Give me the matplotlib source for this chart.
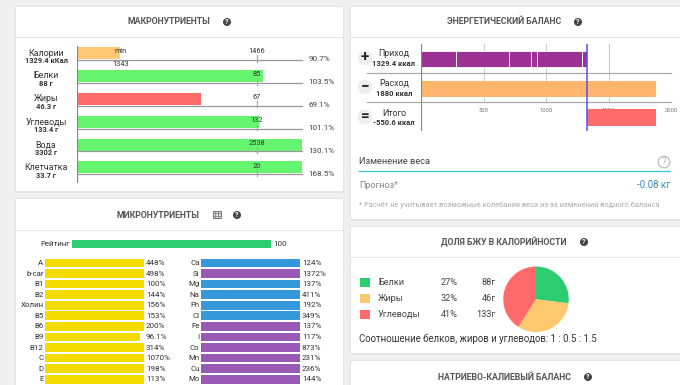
import matplotlib
matplotlib.use("Agg")
import matplotlib.pyplot as plt
from matplotlib.patches import Rectangle, Circle

plt.rcParams['font.family'] = ['Roboto', 'DejaVu Sans']

W, H = 680, 385

# ---------- data ----------
macro_names = ['Калории', 'Белки', 'Жиры', 'Углеводы', 'Вода', 'Клетчатка']
macro_amounts = ['1329.4 кКал', '88 г', '46.3 г', '133.4 г', '3302 г', '33.7 г']
macro_bars = [24.3, 103.5, 69.1, 101.1, 130.1, 168.5]
macro_pct = ['90.7%', '103.5%', '69.1%', '101.1%', '130.1%', '168.5%']
macro_targets = ['1466', '85', '67', '132', '2538', '20']
macro_colors = ['#ffc875', '#66f56e', '#ff6b6b', '#66f56e', '#66f56e', '#66f56e']

rating_value = 100
vit_names = ['A', 'b-car', 'B1', 'B2', 'Холин', 'B5', 'B6', 'B9', 'B12', 'C', 'D', 'E']
vit_values = [448, 498, 100, 144, 156, 153, 200, 96.1, 314, 1070, 198, 113]
vit_labels = ['448%', '498%', '100%', '144%', '156%', '153%', '200%', '96.1%', '314%', '1070%', '198%', '113%']
min_names = ['Ca', 'Si', 'Mg', 'Na', 'Ph', 'Cl', 'Fe', 'I', 'Co', 'Mn', 'Cu', 'Mo']
min_values = [124, 1372, 137, 411, 192, 349, 137, 117, 873, 231, 236, 144]
min_labels = ['124%', '1372%', '137%', '411%', '192%', '349%', '137%', '117%', '873%', '231%', '236%', '144%']
min_is_blue = [1, 0, 1, 1, 1, 1, 0, 0, 0, 0, 0, 0]

intake_parts = [280, 424, 176, 48, 360, 41.4]
intake_total = 1329.4
spent_total = 1880
energy_names = ['Приход', 'Расход', 'Итого']
energy_amounts = ['1329.4 ккал', '1880 ккал', '-550.6 ккал']
energy_signs = ['+', '−', '=']
energy_ticks = [500, 1000, 1500, 2000]

pie_names = ['Белки', 'Жиры', 'Углеводы']
pie_pct = [27, 32, 41]
pie_grams = ['88г', '46г', '133г']
pie_colors = ['#2ecc71', '#fdc96f', '#ff6b6b']

# ---------- layout helpers ----------
fig = plt.figure(figsize=(W / 100, H / 100), dpi=100, facecolor='#efefef')
bg = fig.add_axes([0, 0, 1, 1], zorder=0)
bg.set_xlim(0, W)
bg.set_ylim(H, 0)
bg.axis('off')


def px_ax(x0, y0, x1, y1, z=2):
    a = fig.add_axes([x0 / W, 1 - y1 / H, (x1 - x0) / W, (y1 - y0) / H], zorder=z)
    a.patch.set_alpha(0)
    for s in a.spines.values():
        s.set_visible(False)
    a.set_xticks([])
    a.set_yticks([])
    return a


def card(x0, y0, x1, y1, sep=None):
    bg.add_patch(Rectangle((x0 - 1, y0 - 1), x1 - x0 + 2, y1 - y0 + 3, fc='#e4e4e4', ec='none'))
    bg.add_patch(Rectangle((x0, y0), x1 - x0, y1 - y0, fc='white', ec='none'))
    if sep:
        bg.plot([x0, x1], [sep, sep], color='#e6e6e6', lw=0.8)


def help_icon(x, y):
    bg.add_patch(Circle((x, y), 4, fc='#444444', ec='none'))
    bg.text(x, y, '?', color='white', fontsize=5, fontweight='bold', ha='center', va='center')


def title(x, y, s):
    bg.text(x, y, s, fontsize=6.3, fontweight='bold', color='#555555', ha='center', va='center')


card(16, 7, 343, 191, 37)
card(16, 199, 343, 390, 230)
card(351, 7, 680, 219, 37)
card(351, 227, 680, 353, 257)
card(351, 361, 680, 390)

title(169, 22, 'МАКРОНУТРИЕНТЫ')
help_icon(227, 22)
title(158, 215, 'МИКРОНУТРИЕНТЫ')
help_icon(237, 215)
bg.add_patch(Rectangle((212.5, 211), 8.5, 7, fc='#dddddd', ec='#777777', lw=0.7))
for gx in (215.3, 218.1):
    bg.plot([gx, gx], [211, 218], color='#777777', lw=0.5)
for gy in (213.3, 215.6):
    bg.plot([212.5, 221], [gy, gy], color='#777777', lw=0.5)
title(504, 22, 'ЭНЕРГЕТИЧЕСКИЙ БАЛАНС')
help_icon(578, 22)
title(504, 242, 'ДОЛЯ БЖУ В КАЛОРИЙНОСТИ')
help_icon(584, 242)
title(504, 377, 'НАТРИЕВО-КАЛИЕВЫЙ БАЛАНС')
help_icon(588, 377)

# ---------- macronutrients ----------
mx = px_ax(76.5, 46, 302, 183)
mx.set_xlim(0, 125)
mx.set_ylim(5.68, -0.306)
mx.barh(range(6), macro_bars, height=0.52, color=macro_colors)
for i in range(6):
    mx.plot([0, 125], [i + 0.3, i + 0.3], color='#999999', lw=0.9, clip_on=False)
    mx.plot([100, 100], [i + 0.1, i + 0.38], color='#aaaaaa', lw=0.9)
    mx.text(100, i - 0.05, macro_targets[i], fontsize=5.3, color='#333333', ha='center', va='center')
    mx.text(128.5, i + 0.27, macro_pct[i], fontsize=5.9, color='#444444', ha='left', va='center', clip_on=False)
    mx.text(-16.9, i, macro_names[i], fontsize=6.4, color='#333333', ha='center', va='center', clip_on=False)
    mx.text(-16.9, i + 0.36, macro_amounts[i], fontsize=5.4, fontweight='bold', color='#333333', ha='center', va='center', clip_on=False)
mx.text(24.3, -0.05, 'min', fontsize=5.3, color='#333333', ha='center', va='center')
mx.text(24.3, 0.52, '1343', fontsize=5.3, color='#333333', ha='center', va='center')
mx.axvline(0, color='#888888', lw=0.9)

# ---------- micronutrients ----------
rx = px_ax(72, 239.5, 270.5, 248.5)
rx.set_xlim(0, 100)
rx.set_ylim(-0.5, 0.5)
rx.barh([0], [rating_value], height=0.95, color='#2ecc71')
rx.text(-1, 0, 'Рейтинг', fontsize=5.7, color='#333333', ha='right', va='center', clip_on=False)
rx.text(101.5, 0, str(rating_value), fontsize=5.8, color='#333333', ha='left', va='center', clip_on=False)


def micro_panel(x0, x1, names, values, labels, colors):
    a = px_ax(x0, 258, x1, 384)
    a.set_xlim(0, 100)
    a.set_ylim(11.45, -0.47)
    a.barh(range(12), values, height=0.82, color=colors)
    for i in range(12):
        a.text(-1.5, i, names[i], fontsize=5.7, color='#333333', ha='right', va='center', clip_on=False)
        a.text(102.5, i, labels[i], fontsize=5.8, color='#333333', ha='left', va='center', clip_on=False)


micro_panel(45, 143.5, vit_names, vit_values, vit_labels, ['#f4dc00'] * 12)
micro_panel(201, 299.5, min_names, min_values, min_labels,
            ['#3498db' if b else '#9b59b6' for b in min_is_blue])

# ---------- energy balance ----------
ex = px_ax(421, 44, 671, 131)
ex.set_xlim(0, 2000)
ex.set_ylim(131, 44)
for t in energy_ticks:
    ex.plot([t, t], [44, 102], color='#cccccc', lw=0.8, zorder=1)
    ex.text(t, 110.5, str(t), fontsize=4.2, color='#777777', ha='center', va='center', clip_on=False, zorder=1)
left = 0
for part in intake_parts:
    ex.barh(59, part, left=left, height=16.5, color='#9b3293', edgecolor='white', linewidth=0.6, zorder=2)
    left += part
ex.barh(89, spent_total, height=16.5, color='#ffb56b', zorder=2)
ex.barh(117.5, spent_total - intake_total, left=intake_total, height=17, color='#ff6b6b', zorder=2)
for yy in (73, 102):
    ex.plot([-430, 2000], [yy, yy], color='#aaaaaa', lw=0.9, clip_on=False, zorder=1)
ex.axvline(0, color='#888888', lw=0.9)
ex.axvline(intake_total, color='#5a4fe8', lw=1.1, zorder=3)
for cy, nm, am, sg, ny, ay in zip((58, 87, 117), energy_names, energy_amounts, energy_signs,
                                 (54, 83, 113), (63.5, 93, 122.5)):
    bg.add_patch(Circle((365, cy), 7.2, fc='#eeeeee', ec='none'))
    bg.text(365, cy - 0.5, sg, fontsize=11, fontweight='bold', color='#222222', ha='center', va='center')
    bg.text(394, ny, nm, fontsize=6.4, color='#333333', ha='center', va='center')
    bg.text(394, ay, am, fontsize=5.5, fontweight='bold', color='#333333', ha='center', va='center')

bg.text(359, 162, 'Изменение веса', fontsize=6.7, color='#444444', ha='left', va='center')
bg.plot([359, 670], [170.5, 170.5], color='#35c9cf', lw=0.9)
bg.add_patch(Circle((664, 162), 5.8, fc='white', ec='#bbbbbb', lw=0.9))
bg.text(664, 162, '?', fontsize=7, color='#bbbbbb', ha='center', va='center')
bg.text(359, 185, 'Прогноз*', fontsize=6.5, color='#888888', ha='left', va='center')
bg.text(670, 185, '-0.08 кг', fontsize=7, color='#3f88b8', ha='right', va='center')
bg.text(359, 205.5, '* Расчёт не учитывает возможные колебания веса из-за изменения водного баланса',
        fontsize=5.35, color='#aaaaaa', ha='left', va='center')

# ---------- pie ----------
px = px_ax(502, 265.5, 570, 333)
px.pie(pie_pct, colors=pie_colors, startangle=90, counterclock=False, radius=1)
px.set_aspect('equal')
px.set_xlim(-1.03, 1.03)
px.set_ylim(-1.03, 1.03)
for i, yy in enumerate((282.5, 298.5, 314.5)):
    bg.add_patch(Rectangle((360, yy - 4.5), 10, 9, fc=pie_colors[i], ec='none'))
    bg.text(378, yy, pie_names[i], fontsize=6.6, color='#444444', ha='left', va='center')
    bg.text(441, yy, f'{pie_pct[i]}%', fontsize=6.6, color='#444444', ha='left', va='center')
    bg.text(496, yy, pie_grams[i], fontsize=6.6, color='#444444', ha='right', va='center')
bg.text(359, 338.5, 'Соотношение белков, жиров и углеводов: 1 : 0.5 : 1.5',
        fontsize=6.95, color='#333333', ha='left', va='center')

fig.savefig('out.png', dpi=100, facecolor=fig.get_facecolor())
